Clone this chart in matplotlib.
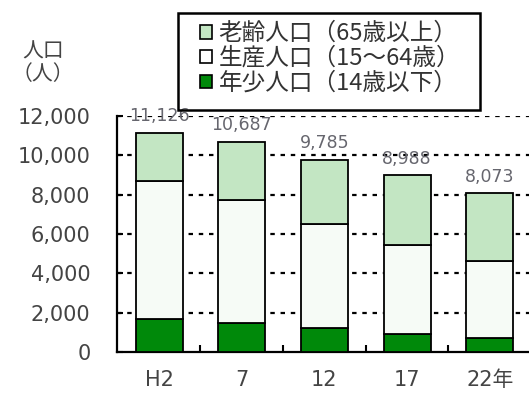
import matplotlib
matplotlib.use('Agg')
import matplotlib.pyplot as plt
from matplotlib.patches import Patch, Rectangle

plt.rcParams['font.family'] = ['Noto Sans CJK JP', 'DejaVu Sans']
num_font = ['DejaVu Sans', 'Noto Sans CJK JP']

# 人口の推移（年齢3区分別）
years = ['H2', '7', '12', '17', '22年']
young = [1670, 1480, 1200, 910, 690]        # 年少人口（14歳以下）
working = [7040, 6252, 5316, 4542, 3933]    # 生産人口（15～64歳）
elderly = [2416, 2955, 3269, 3536, 3450]    # 老齢人口（65歳以上）
y_ticks = [0, 2000, 4000, 6000, 8000, 10000, 12000]

c_young = '#00890a'
c_working = '#f6fbf6'
c_elderly = '#c3e6c3'
text_gray = '#444444'

W, H = 529, 394
fig = plt.figure(figsize=(W / 100, H / 100), dpi=100)
ax = fig.add_axes([0.221, 0.1066, 0.783, 0.599])

x = list(range(len(years)))
w = 0.57
base2 = [a + b for a, b in zip(young, working)]
totals = [a + b for a, b in zip(base2, elderly)]

ax.bar(x, young, w, color=c_young, edgecolor='black', linewidth=1.3, zorder=3)
ax.bar(x, working, w, bottom=young, color=c_working, edgecolor='black', linewidth=1.3, zorder=3)
ax.bar(x, elderly, w, bottom=base2, color=c_elderly, edgecolor='black', linewidth=1.3, zorder=3)

for xi, t in zip(x, totals):
    ax.text(xi, t + 850, f'{t:,}', ha='center', va='center', fontsize=12.5,
            family=num_font, color='#66666e', zorder=4)

# 破線のグリッド
for v in y_ticks[1:]:
    ax.axhline(v, color='black', linewidth=1.6, linestyle=(0, (2, 2.6)), zorder=1)

ax.set_xlim(-0.51, 4.5)
ax.set_ylim(0, 12000)
ax.set_yticks(y_ticks)
ax.set_yticklabels([f'{v:,}' for v in y_ticks], family=num_font)
ax.set_xticks(x)
ax.set_xticklabels(years, family=num_font)
ax.set_xticks([i + 0.5 for i in x[:-1]], minor=True)

ax.tick_params(axis='y', direction='in', length=4, width=1.5, labelsize=15,
               labelcolor=text_gray, pad=19)
ax.tick_params(axis='x', which='major', length=0, labelsize=15,
               labelcolor=text_gray, pad=13)
ax.tick_params(axis='x', which='minor', direction='in', length=5, width=1.5)

for s in ['top', 'right']:
    ax.spines[s].set_visible(False)
for s in ['left', 'bottom']:
    ax.spines[s].set_linewidth(1.6)

fig.text(43 / W, 1 - 63 / H, '人口\n（人）', ha='center', va='center', fontsize=15,
         color=text_gray, linespacing=1.05)

# 凡例（枠は別に描く）
handles = [
    Patch(facecolor=c_elderly, edgecolor='black', linewidth=1.2, label='老齢人口（65歳以上）'),
    Patch(facecolor='white', edgecolor='black', linewidth=1.2, label='生産人口（15～64歳）'),
    Patch(facecolor=c_young, edgecolor='black', linewidth=1.2, label='年少人口（14歳以下）'),
]
leg = fig.legend(handles=handles, loc='upper left', bbox_to_anchor=(200 / W, 1 - 22 / H),
                 fontsize=17, frameon=False, handlelength=0.52,
                 handleheight=0.52, handletextpad=0.26, labelspacing=0.08,
                 borderpad=0, borderaxespad=0)
for t in leg.get_texts():
    t.set_color('#333333')

fig.patches.append(Rectangle((178 / W, 1 - 110 / H), 302 / W, 97 / H,
                             transform=fig.transFigure, fill=False,
                             edgecolor='black', linewidth=1.8))

fig.savefig('out.png', dpi=100)
